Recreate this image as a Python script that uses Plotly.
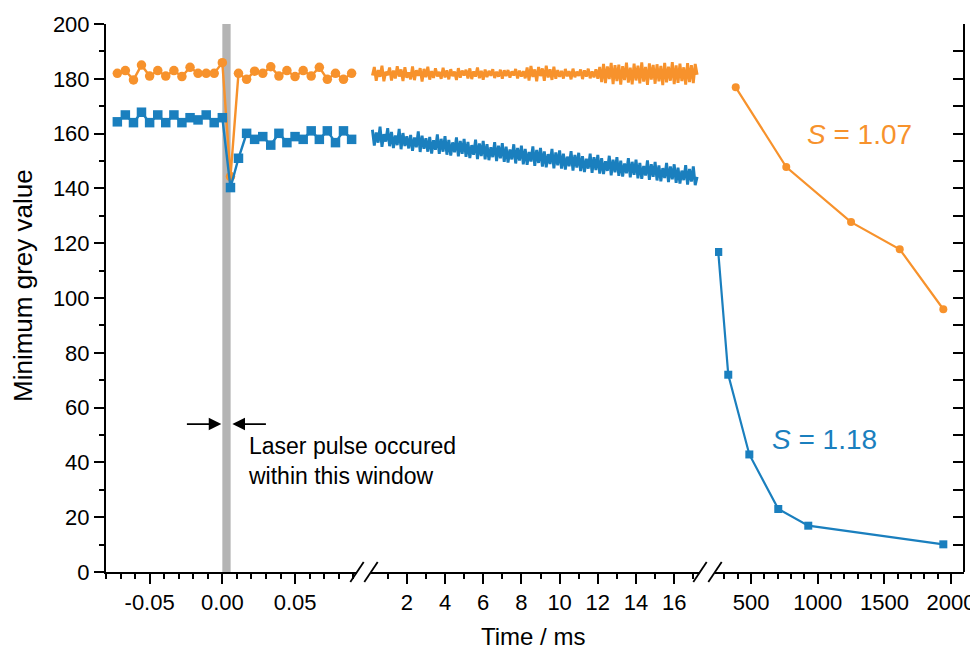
import plotly.graph_objects as go

# ---------------- data ----------------
# segment 1 : around the laser pulse (ms)
t1 = [-0.0722, -0.0667, -0.0611, -0.0556, -0.0500, -0.0444, -0.0389, -0.0333, -0.0278, -0.0222,
      -0.0167, -0.0111, -0.0056, 0.0000, 0.0056, 0.0111, 0.0167, 0.0222, 0.0278, 0.0333,
      0.0389, 0.0444, 0.0500, 0.0556, 0.0611, 0.0667, 0.0722, 0.0778, 0.0833, 0.0889]
orange1 = [182.0, 183.0, 179.6, 185.0, 181.0, 183.0, 181.0, 183.0, 180.8, 184.2,
           182.0, 182.0, 182.0, 185.9, 144.3, 182.0, 179.8, 182.8, 182.0, 184.4,
           181.0, 183.0, 180.8, 183.0, 181.0, 184.2, 179.8, 182.0, 179.8, 182.0]
blue1 = [164.3, 166.8, 164.0, 167.8, 164.0, 166.8, 164.0, 166.8, 164.0, 165.8,
         165.0, 166.8, 164.0, 165.8, 140.3, 151.0, 160.1, 157.9, 158.9, 155.8,
         160.1, 156.7, 158.9, 157.9, 161.0, 157.9, 161.0, 156.7, 161.0, 157.9]

# segment 2 : 0.2 ... 17.2 ms, step 0.1 ms
t2_start, t2_step = 0.2, 0.1
orange2 = [
    181.2, 184.3, 179.3, 183.2, 180.7, 184.8, 179.1, 182.6, 181.3, 184.1,
    179.4, 183.0, 180.1, 184.6, 180.8, 183.4, 179.2, 184.2, 180.4, 182.3,
    179.8, 184.5, 179.5, 183.1, 181.1, 183.9, 179.0, 183.6, 180.6, 184.4,
    179.7, 182.8, 180.3, 183.8, 180.9, 182.5, 180.0, 184.0, 180.5, 183.1,
    179.8, 183.5, 181.0, 182.6, 179.6, 183.9, 180.4, 183.0, 181.2, 183.3,
    180.1, 183.8, 179.9, 182.7, 180.8, 184.1, 180.2, 182.9, 179.7, 183.4,
    180.6, 182.9, 181.1, 183.5, 180.3, 182.6, 180.8, 183.3, 180.0, 183.1,
    181.0, 183.2, 180.4, 182.7, 181.2, 183.6, 180.1, 183.0, 180.8, 182.8,
    180.2, 184.1, 179.4, 184.7, 180.7, 183.4, 179.1, 184.3, 181.0, 183.8,
    179.3, 184.8, 180.5, 183.5, 179.6, 184.4, 180.0, 183.2, 180.7, 182.9,
    180.1, 183.6, 180.9, 182.8, 179.8, 183.7, 180.6, 182.6, 181.1, 183.4,
    179.9, 183.1, 180.8, 183.7, 180.2, 182.7, 180.5, 183.5, 180.0, 184.3,
    178.8, 185.4, 178.4, 184.5, 179.9, 185.8, 178.1, 185.0, 179.2, 185.2,
    177.9, 184.6, 179.5, 185.9, 178.6, 184.1, 178.0, 185.5, 179.4, 184.8,
    178.3, 186.0, 179.0, 184.3, 177.8, 185.6, 179.7, 185.1, 178.2, 185.3,
    179.1, 184.7, 177.7, 185.8, 178.7, 184.4, 179.3, 186.1, 178.1, 184.9,
    178.5, 185.5, 179.2, 184.2, 177.9, 185.7, 178.8, 185.0, 178.4, 185.4,
    181.5]
blue2 = [
    161.4, 155.6, 160.4, 156.7, 162.5, 155.2, 159.8, 157.1, 162.0, 155.4,
    160.6, 154.7, 159.3, 155.8, 161.7, 154.3, 160.2, 155.5, 159.0, 154.6,
    159.5, 153.7, 158.6, 155.0, 160.8, 153.3, 159.2, 154.5, 158.3, 153.4,
    158.8, 152.7, 157.6, 154.1, 159.7, 152.6, 158.1, 153.4, 159.1, 152.3,
    157.7, 152.0, 156.8, 153.2, 158.6, 151.7, 157.3, 152.6, 158.1, 151.5,
    157.0, 151.1, 155.8, 152.3, 157.8, 150.7, 156.4, 151.8, 157.3, 150.6,
    156.1, 150.3, 155.0, 151.4, 156.9, 150.0, 155.6, 151.0, 156.5, 149.7,
    155.2, 149.4, 154.2, 150.6, 156.1, 149.1, 154.8, 150.2, 155.6, 148.8,
    154.4, 148.6, 153.3, 149.8, 155.3, 148.2, 154.0, 149.3, 154.8, 148.0,
    153.5, 147.7, 152.5, 148.9, 154.4, 147.3, 153.1, 148.4, 153.9, 147.2,
    152.7, 146.9, 151.6, 148.1, 153.6, 146.5, 152.2, 147.6, 153.0, 146.3,
    151.8, 146.0, 150.8, 147.2, 152.7, 145.7, 151.4, 146.7, 152.2, 145.4,
    151.0, 145.2, 149.9, 146.4, 151.9, 144.8, 150.5, 145.9, 151.4, 144.6,
    150.1, 144.3, 149.1, 145.5, 151.0, 144.0, 149.7, 145.0, 150.5, 143.7,
    149.3, 143.5, 148.2, 144.7, 150.2, 143.1, 148.8, 144.2, 149.7, 142.9,
    148.4, 142.6, 147.4, 143.8, 149.3, 142.3, 148.0, 143.3, 148.8, 142.0,
    147.6, 141.8, 146.5, 143.0, 148.5, 141.4, 147.1, 142.5, 148.0, 141.2,
    144.2]
t2 = [round(t2_start + i * t2_step, 2) for i in range(len(orange2))]

# segment 3 : long times (ms)
t3_orange = [385, 764, 1250, 1615, 1942]
orange3 = [176.9, 147.8, 127.7, 117.8, 95.9]
t3_blue = [254, 329, 487, 704, 929, 1942]
blue3 = [116.8, 72.0, 42.9, 23.0, 16.9, 10.1]

# tick labels
seg1_ticks = [-0.05, 0.0, 0.05]
seg1_ticktext = ["-0.05", "0.00", "0.05"]
seg1_minor = [-0.08, -0.07, -0.06, -0.04, -0.03, -0.02, -0.01, 0.01, 0.02, 0.03, 0.04, 0.06, 0.07, 0.08, 0.09]

pulse_window = [0.0, 0.0057]

# ---------------- styling ----------------
ORANGE = "#F7922C"
BLUE = "#1A7FBE"
FONT = "Liberation Sans, Arial, sans-serif"

OFF = 8                      # browser body margin
W, H = 978 - OFF, 650 - OFF
L, R, T, B = 106 - OFF, 14, 24 - OFF, 78
PW, PH = W - L - R, H - T - B


def px(x):
    """screen x (px) -> paper fraction"""
    return (x - OFF - L) / PW


fig = go.Figure()

line_w = 2.4
msize1 = 9.5
msize3 = 8

# segment 1
fig.add_trace(go.Scatter(x=t1, y=orange1, mode="lines+markers", xaxis="x", yaxis="y",
                         line=dict(color=ORANGE, width=line_w),
                         marker=dict(symbol="circle", size=msize1, color=ORANGE), showlegend=False))
fig.add_trace(go.Scatter(x=t1, y=blue1, mode="lines+markers", xaxis="x", yaxis="y",
                         line=dict(color=BLUE, width=line_w),
                         marker=dict(symbol="square", size=msize1, color=BLUE), showlegend=False))
# segment 2
fig.add_trace(go.Scatter(x=t2, y=orange2, mode="lines", xaxis="x2", yaxis="y",
                         line=dict(color=ORANGE, width=2.9), showlegend=False))
fig.add_trace(go.Scatter(x=t2, y=blue2, mode="lines", xaxis="x2", yaxis="y",
                         line=dict(color=BLUE, width=2.9), showlegend=False))
# segment 3
fig.add_trace(go.Scatter(x=t3_orange, y=orange3, mode="lines+markers", xaxis="x3", yaxis="y",
                         line=dict(color=ORANGE, width=2.2),
                         marker=dict(symbol="circle", size=msize3, color=ORANGE), showlegend=False))
fig.add_trace(go.Scatter(x=t3_blue, y=blue3, mode="lines+markers", xaxis="x3", yaxis="y",
                         line=dict(color=BLUE, width=2.2),
                         marker=dict(symbol="square", size=msize3, color=BLUE), showlegend=False))

tickfont = dict(family=FONT, size=22, color="black")
common_x = dict(showline=True, linecolor="black", linewidth=2, ticks="outside", ticklen=10,
                tickwidth=1.6, tickcolor="black", showgrid=False, zeroline=False,
                tickfont=tickfont, anchor="y")

fig.update_layout(
    width=W, height=H,
    margin=dict(l=L, r=R, t=T, b=B, pad=0, autoexpand=False),
    paper_bgcolor="white", plot_bgcolor="white",
    font=dict(family=FONT, size=22, color="black"),
    xaxis=dict(domain=[0, px(357)], range=[-0.08, 0.0926], tickmode="array",
               tickvals=seg1_ticks, ticktext=seg1_ticktext,
               minor=dict(tickmode="array", tickvals=seg1_minor, ticklen=5, tickwidth=1.6,
                          tickcolor="black", ticks="outside", showgrid=False),
               **common_x),
    xaxis2=dict(domain=[px(371), px(700)], range=[0.126, 17.35], tickmode="linear", tick0=0, dtick=2,
                minor=dict(tickmode="linear", tick0=0, dtick=1, ticklen=5, tickwidth=1.6,
                           tickcolor="black", ticks="outside", showgrid=False),
                **common_x),
    xaxis3=dict(domain=[px(715), 1], range=[229.5, 2097], tickmode="linear", tick0=0, dtick=500,
                minor=dict(tickmode="linear", tick0=0, dtick=100, ticklen=5, tickwidth=1.6,
                           tickcolor="black", ticks="outside", showgrid=False),
                **common_x),
    yaxis=dict(domain=[0, 1], range=[0, 200], tickmode="linear", tick0=0, dtick=20,
               showline=True, linecolor="black", linewidth=2, ticks="outside", ticklen=10,
               tickwidth=1.6, tickcolor="black", showgrid=False, zeroline=False,
               tickfont=tickfont, anchor="x",
               minor=dict(tickmode="linear", tick0=0, dtick=10, ticklen=5, tickwidth=1.6,
                          tickcolor="black", ticks="outside", showgrid=False)),
    yaxis2=dict(overlaying="y", side="right", anchor="free", position=1, range=[0, 200],
                tickmode="linear", tick0=0, dtick=10, showticklabels=False,
                showline=True, linecolor="black", linewidth=2, ticks="inside", ticklen=10,
                tickwidth=1.6, tickcolor="black", showgrid=False, zeroline=False),
)

# invisible trace so the right axis is drawn
fig.add_trace(go.Scatter(x=[None], y=[None], xaxis="x3", yaxis="y2", showlegend=False,
                         hoverinfo="skip"))

shapes = []
# laser pulse window
shapes.append(dict(type="rect", xref="x", yref="paper", x0=pulse_window[0], x1=pulse_window[1],
                   y0=0, y1=1, fillcolor="#B4B4B4", line=dict(width=0), layer="below"))
# axis break marks
for cx in (357, 371, 700, 715):
    shapes.append(dict(type="line", xref="paper", yref="paper",
                       x0=px(cx - 6.7), y0=-10 / PH, x1=px(cx + 6.7), y1=10 / PH,
                       line=dict(color="black", width=1.8)))
fig.update_layout(shapes=shapes)

ann = []
ann.append(dict(text="Time / ms", xref="paper", yref="paper", x=px(533), y=0, yshift=-64,
                showarrow=False, font=dict(family=FONT, size=24), xanchor="center", yanchor="middle"))
ann.append(dict(text="Minimum grey value", xref="paper", yref="paper", x=0, xshift=-(106 - 23),
                y=(572 - 286) / PH, textangle=-90, showarrow=False,
                font=dict(family=FONT, size=26), xanchor="center", yanchor="middle"))
ann.append(dict(text="<i>S</i> = 1.07", xref="x3", yref="y", x=1310, y=159.5, showarrow=False,
                font=dict(family=FONT, size=28, color=ORANGE), xanchor="center", yanchor="middle"))
ann.append(dict(text="<i>S</i> = 1.18", xref="x3", yref="y", x=1052, y=48.4, showarrow=False,
                font=dict(family=FONT, size=28, color=BLUE), xanchor="center", yanchor="middle"))
ann.append(dict(text="Laser pulse occured<br>within this window", xref="x", yref="y",
                x=0.0165, y=40.5, showarrow=False, align="left",
                font=dict(family=FONT, size=23, color="black"), xanchor="left", yanchor="middle"))
# arrows
ann.append(dict(text="", xref="x", yref="y", x=-0.0007, y=54, axref="x", ayref="y",
                ax=-0.0254, ay=54, showarrow=True, arrowhead=2, arrowsize=1.4, arrowwidth=1.8,
                arrowcolor="black"))
ann.append(dict(text="", xref="x", yref="y", x=0.0069, y=54, axref="x", ayref="y",
                ax=0.031, ay=54, showarrow=True, arrowhead=2, arrowsize=1.4, arrowwidth=1.8,
                arrowcolor="black"))
fig.update_layout(annotations=ann)

fig.write_html("out.html")
